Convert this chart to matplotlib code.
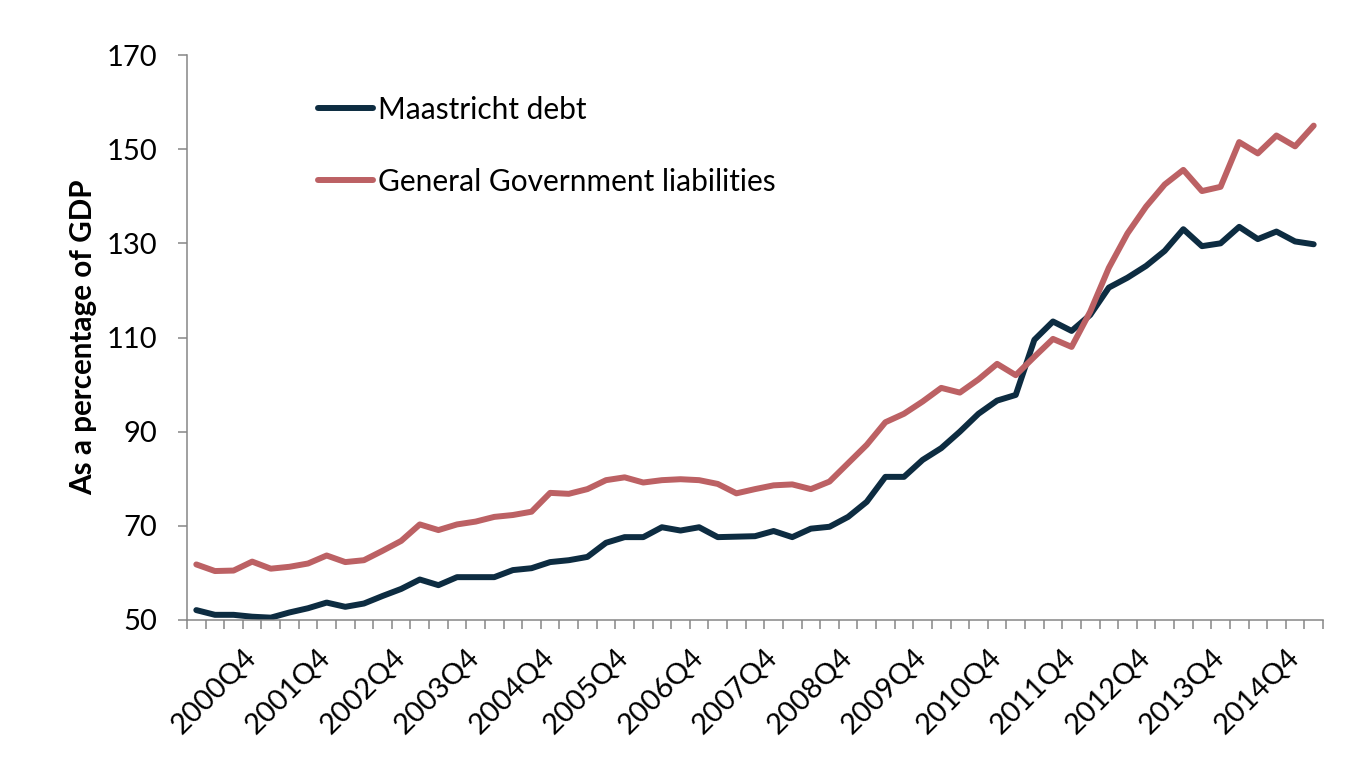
import matplotlib.pyplot as plt
import numpy as np

# Datos (porcentaje del PIB, trimestral 2000Q1 - 2015Q1)
trimestres = [f"{a}Q{q}" for a in range(2000, 2016) for q in range(1, 5)][:61]

deuda_maastricht = [52.1, 51.1, 51.1, 50.7, 50.5, 51.6, 52.5, 53.7, 52.8, 53.5, 55.1, 56.6, 58.6,
                    57.4, 59.1, 59.1, 59.1, 60.6, 61.0, 62.3, 62.7, 63.4, 66.4, 67.6, 67.6,
                    69.7, 69.0, 69.7, 67.6, 67.7, 67.8, 68.9, 67.6, 69.4, 69.8, 71.9, 75.1,
                    80.4, 80.4, 84.0, 86.5, 90.0, 93.8, 96.6, 97.8, 109.5, 113.4, 111.4, 114.8,
                    120.6, 122.7, 125.2, 128.4, 133.0, 129.4, 130.0, 133.5, 130.9, 132.5, 130.4, 129.8]

pasivos_gobierno = [61.8, 60.4, 60.5, 62.4, 60.9, 61.3, 62.0, 63.7, 62.3, 62.7, 64.7, 66.8, 70.3,
                    69.1, 70.3, 70.9, 71.9, 72.3, 73.0, 77.0, 76.8, 77.8, 79.7, 80.3, 79.2,
                    79.7, 79.9, 79.7, 78.9, 76.9, 77.8, 78.6, 78.8, 77.8, 79.4, 83.3, 87.2,
                    92.0, 93.8, 96.4, 99.3, 98.3, 101.1, 104.4, 102.0, 105.9, 109.7, 108.0, 115.5,
                    124.8, 132.1, 137.8, 142.5, 145.6, 141.1, 142.0, 151.5, 149.1, 152.9, 150.6, 155.0]

plt.rcParams['font.family'] = ['Lato', 'DejaVu Sans']

fig = plt.figure(figsize=(13.46, 7.61), dpi=100)
ax = fig.add_axes([187 / 1346, 1 - 620 / 761, 1136 / 1346, 565 / 761])

x = np.arange(len(trimestres))
ax.plot(x, deuda_maastricht, color='#0D2C41', linewidth=4.3, label='Maastricht debt',
        solid_capstyle='round', solid_joinstyle='round')
ax.plot(x, pasivos_gobierno, color='#BC6164', linewidth=4.3, label='General Government liabilities',
        solid_capstyle='round', solid_joinstyle='round')

ax.set_xlim(-0.5, len(trimestres) - 0.5)
ax.set_ylim(50, 170)
ax.set_yticks(np.arange(50, 171, 20))

# Marcas entre categorias (estilo Excel) y etiquetas cada 4 trimestres
ax.set_xticks(np.arange(-0.5, len(trimestres), 1), minor=True)
ax.set_xticks(x[3::4])
ax.set_xticklabels(trimestres[3::4], rotation=45, ha='right', va='center', rotation_mode='anchor')
ax.tick_params(axis='x', which='major', length=0, pad=24, labelsize=21)
ax.tick_params(axis='x', which='minor', length=6.5, width=1.1, color='#868686', direction='out')
ax.tick_params(axis='y', length=6.5, width=1.1, color='#868686', pad=15, labelsize=21)

for lado in ['top', 'right']:
    ax.spines[lado].set_visible(False)
for lado in ['left', 'bottom']:
    ax.spines[lado].set_color('#868686')
    ax.spines[lado].set_linewidth(1.1)

ax.set_ylabel('As a percentage of GDP', fontsize=21.3, fontweight='bold')
ax.yaxis.set_label_coords(-0.0792, 0.5)

ax.legend(frameon=False, loc='upper left', bbox_to_anchor=(0.1153, 0.928), fontsize=21.5,
          handlelength=1.85, handletextpad=0.17, labelspacing=1.47, borderpad=0, borderaxespad=0)

plt.savefig('out.png', dpi=100)
